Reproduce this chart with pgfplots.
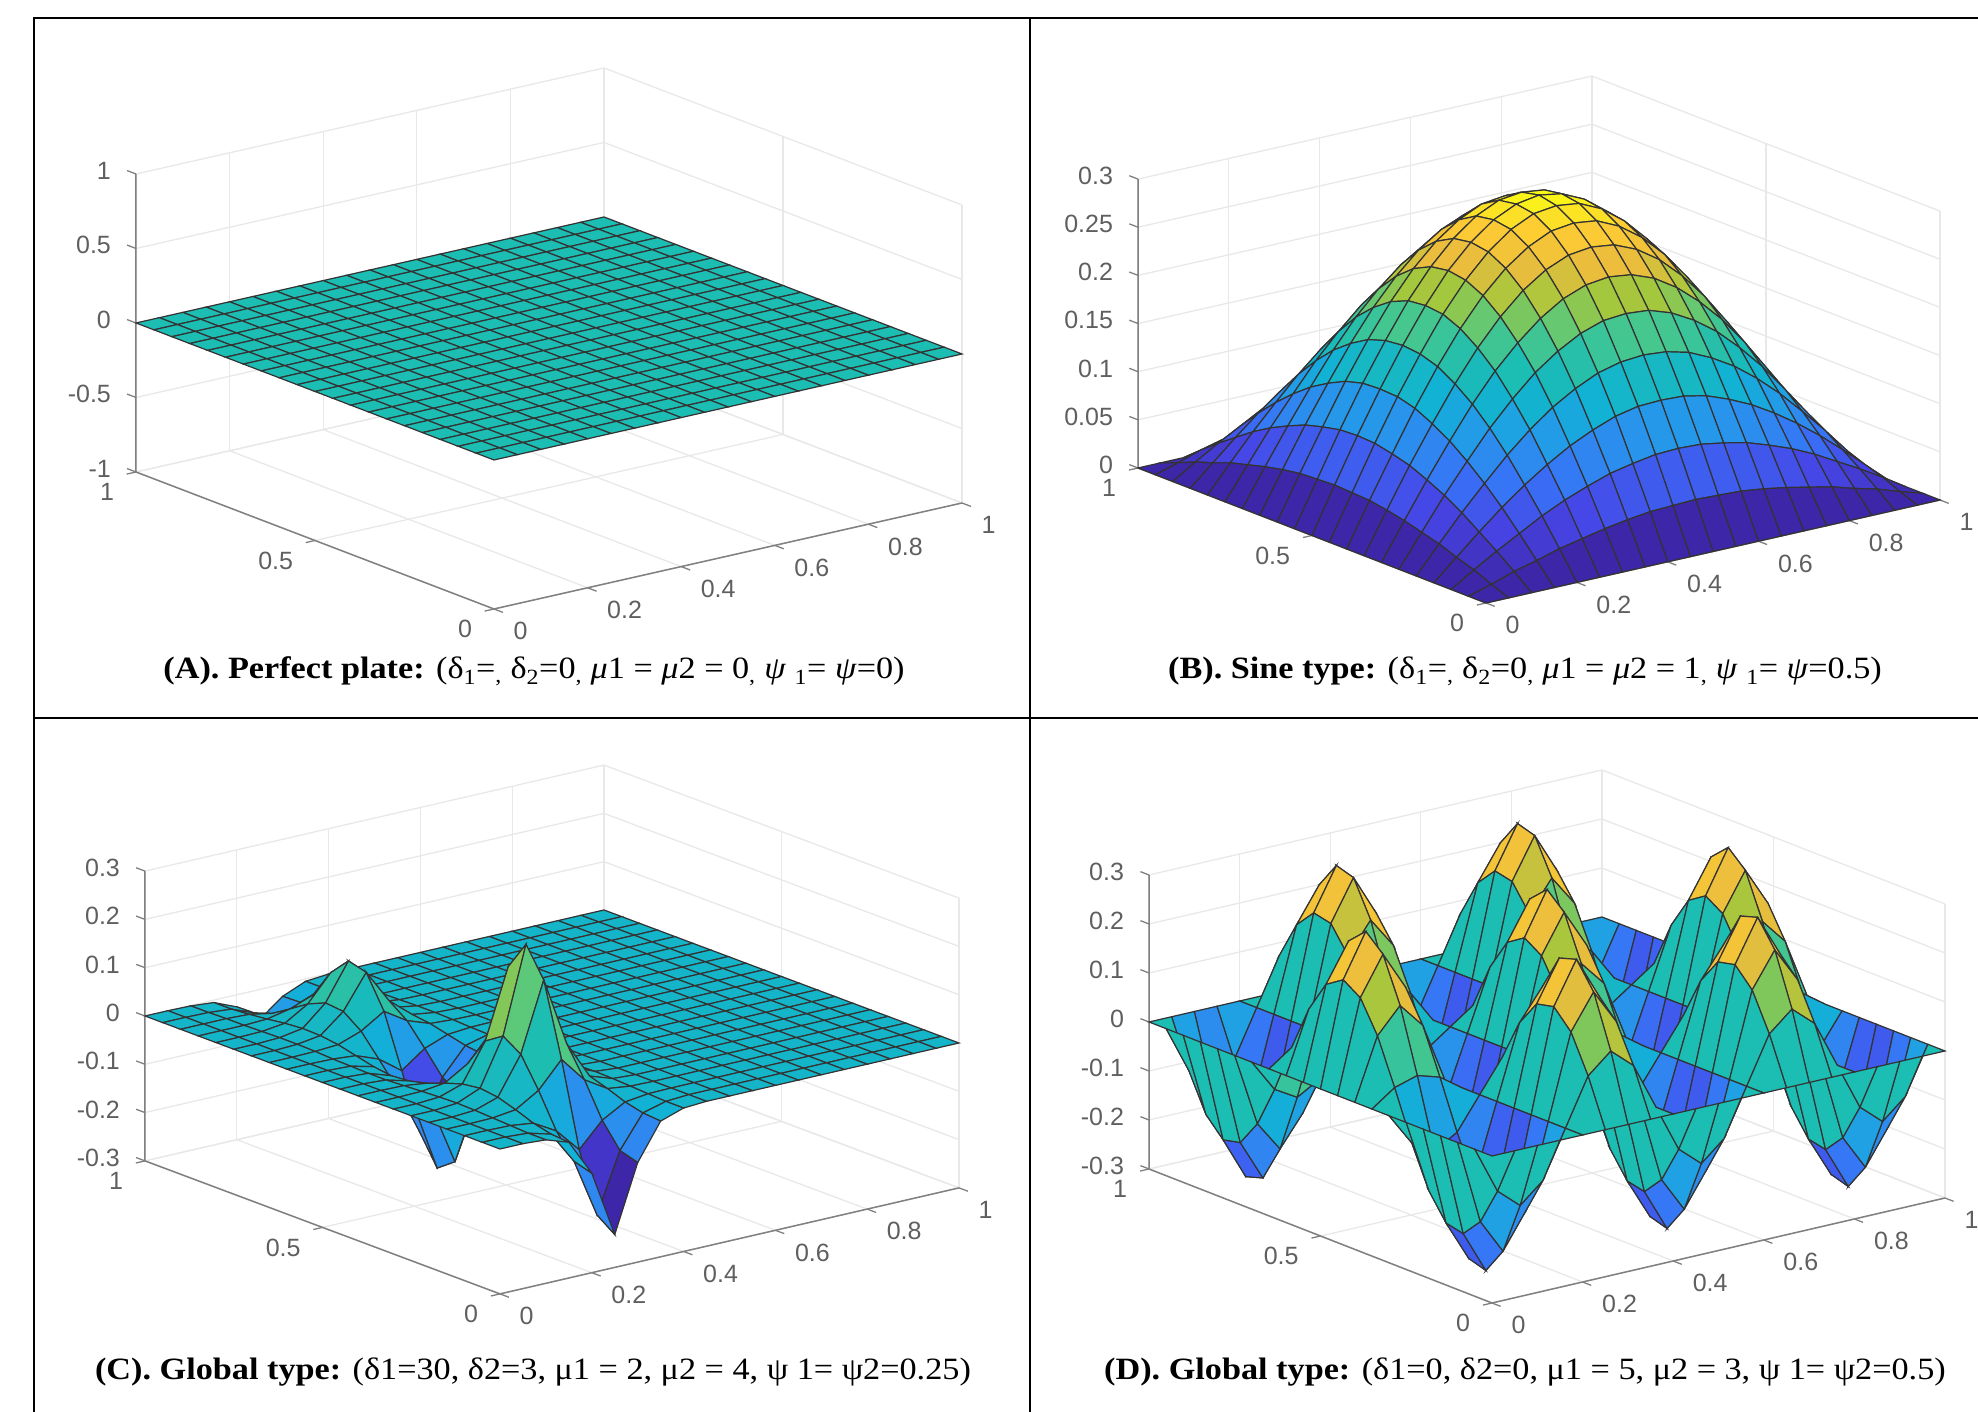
\documentclass[border=0pt]{standalone}
\usepackage{fontspec}
\setmainfont{Liberation Serif}
\newfontfamily\tickfont{Liberation Sans}
\usepackage{pgfplots}
\usepackage{pgfplotstable}
\pgfplotsset{compat=1.18}
\definecolor{tickgray}{HTML}{5F5F5F}
\definecolor{axgray}{HTML}{808080}
\definecolor{gridgray}{HTML}{E8E8E8}
\pgfplotsset{
 colormap={parula}{rgb=(.2422,.1504,.6603) rgb=(.276,.266,.895) rgb=(.22,.45,.97) rgb=(.154,.5902,.9218) rgb=(.0689,.6948,.8394) rgb=(.11,.74,.70) rgb=(.30,.785,.53) rgb=(.64,.78,.24) rgb=(.92,.74,.24) rgb=(.997,.80,.20) rgb=(.9769,.9839,.0805)},
 plate/.style={anchor=origin,clip=false,xmin=0,xmax=1,ymin=0,ymax=1,
  xtick={0,0.2,0.4,0.6,0.8,1},xticklabels={0,0.2,0.4,0.6,0.8,1},
  ytick={0,0.5,1},yticklabels={0,0.5,1},
  grid=major,grid style={gridgray,line width=1.3pt},
  axis line style={draw=none},
  tick style={draw=none},tick align=outside,major tick length=9pt,
  tick label style={font=\tickfont\fontsize{25}{27}\selectfont,text=tickgray,inner sep=0pt},
  xticklabel style={anchor=west,xshift=11pt,yshift=-19pt},
  yticklabel style={anchor=east,xshift=-13pt,yshift=-18pt},
  zticklabel style={anchor=east,xshift=-16.5pt,yshift=0pt},
 },
 face/.style={surf,shader=flat corner,draw=black!80,line width=1.2pt,mesh/rows=21,mesh/cols=21,mesh/check=false,z buffer=none},
 axln/.style={forget plot,no markers,draw=axgray,line width=1.5pt},
 /pgfplots/table/grd/.style={x index=0,y index=0,z index=0,x expr={1-0.05*mod(\coordindex,21)},y expr={1-0.05*floor((\coordindex+0.5)/21)}},
}
\tikzset{tk/.style={draw=axgray,line width=1.3pt}}
\newcommand\capt[3]{\node[inner sep=0pt,font=\fontsize{31}{34}\selectfont] at (#1pt,#2pt) {\scalebox{1.104}[1]{#3}};}
% each face takes the colour of its lowest-index corner, which lies 22 rows further down the table
\newcommand\addcorner[1]{%
 \pgfplotstableforeachcolumnelement{0}\of#1\as\cell{\expandafter\xdef\csname zv\pgfplotstablerow\endcsname{\cell}}%
 \pgfplotstablecreatecol[create col/assign/.code={%
  \pgfmathtruncatemacro\rr{\pgfplotstablerow+22}%
  \ifnum\rr<441
   \expandafter\let\expandafter\vv\csname zv\rr\endcsname
   \pgfkeyslet{/pgfplots/table/create col/next content}\vv
  \else \pgfkeyssetvalue{/pgfplots/table/create col/next content}{0}\fi}]{m}{#1}}
\newcommand\xyticks[1]{%
 \draw[tk] (axis cs:0,0,#1)--(axis cs:0,-.025,#1) (axis cs:.2,0,#1)--(axis cs:.2,-.025,#1)
 (axis cs:.4,0,#1)--(axis cs:.4,-.025,#1) (axis cs:.6,0,#1)--(axis cs:.6,-.025,#1)
 (axis cs:.8,0,#1)--(axis cs:.8,-.025,#1) (axis cs:1,0,#1)--(axis cs:1,-.025,#1)
 (axis cs:0,0,#1)--(axis cs:-.02,0,#1) (axis cs:0,.5,#1)--(axis cs:-.02,.5,#1) (axis cs:0,1,#1)--(axis cs:-.02,1,#1);}
\newcommand\zt[1]{\draw[tk] (axis cs:0,1,#1)--(axis cs:0,1.025,#1);}
\pgfplotstableread[header=false]{
0
0
0
0
0
0
0
0
0
0
0
0
0
0
0
0
0
0
0
0
0
0
.007
.015
.021
.028
.033
.038
.042
.045
.046
.047
.046
.045
.042
.038
.033
.028
.021
.015
.007
0
0
.015
.029
.042
.055
.066
.075
.083
.088
.092
.093
.092
.088
.083
.075
.066
.055
.042
.029
.015
0
0
.021
.042
.062
.080
.096
.110
.121
.130
.135
.136
.135
.130
.121
.110
.096
.080
.062
.042
.021
0
0
.028
.055
.080
.104
.125
.143
.157
.168
.174
.176
.174
.168
.157
.143
.125
.104
.080
.055
.028
0
0
.033
.066
.096
.125
.150
.172
.189
.202
.210
.212
.210
.202
.189
.172
.150
.125
.096
.066
.033
0
0
.038
.075
.110
.143
.172
.196
.216
.231
.240
.243
.240
.231
.216
.196
.172
.143
.110
.075
.038
0
0
.042
.083
.121
.157
.189
.216
.238
.254
.264
.267
.264
.254
.238
.216
.189
.157
.121
.083
.042
0
0
.045
.088
.130
.168
.202
.231
.254
.271
.282
.285
.282
.271
.254
.231
.202
.168
.130
.088
.045
0
0
.046
.092
.135
.174
.210
.240
.264
.282
.293
.296
.293
.282
.264
.240
.210
.174
.135
.092
.046
0
0
.047
.093
.136
.176
.212
.243
.267
.285
.296
.300
.296
.285
.267
.243
.212
.176
.136
.093
.047
0
0
.046
.092
.135
.174
.210
.240
.264
.282
.293
.296
.293
.282
.264
.240
.210
.174
.135
.092
.046
0
0
.045
.088
.130
.168
.202
.231
.254
.271
.282
.285
.282
.271
.254
.231
.202
.168
.130
.088
.045
0
0
.042
.083
.121
.157
.189
.216
.238
.254
.264
.267
.264
.254
.238
.216
.189
.157
.121
.083
.042
0
0
.038
.075
.110
.143
.172
.196
.216
.231
.240
.243
.240
.231
.216
.196
.172
.143
.110
.075
.038
0
0
.033
.066
.096
.125
.150
.172
.189
.202
.210
.212
.210
.202
.189
.172
.150
.125
.096
.066
.033
0
0
.028
.055
.080
.104
.125
.143
.157
.168
.174
.176
.174
.168
.157
.143
.125
.104
.080
.055
.028
0
0
.021
.042
.062
.080
.096
.110
.121
.130
.135
.136
.135
.130
.121
.110
.096
.080
.062
.042
.021
0
0
.015
.029
.042
.055
.066
.075
.083
.088
.092
.093
.092
.088
.083
.075
.066
.055
.042
.029
.015
0
0
.007
.015
.021
.028
.033
.038
.042
.045
.046
.047
.046
.045
.042
.038
.033
.028
.021
.015
.007
0
0
0
0
0
0
0
0
0
0
0
0
0
0
0
0
0
0
0
0
0
0
}\zB
\pgfplotstableread[header=false]{
0
0
0
0
0
0
0
0
0
0
0
0
-.001
-.005
-.025
-.062
-.025
-.005
-.001
0
0
0
0
0
0
0
0
0
0
0
0
0
0
-.001
-.005
-.024
-.059
-.024
-.005
-.001
0
0
0
0
0
0
0
0
0
0
0
0
0
0
0
-.002
-.011
-.026
-.011
-.002
0
0
0
0
0
0
0
0
0
0
0
0
0
0
0
0
.002
.012
.030
.012
.002
0
0
0
0
0
0
0
0
0
0
0
0
0
0
0
.001
.007
.036
.090
.036
.007
.001
0
0
0
0
0
0
0
0
0
0
0
0
0
0
.002
.010
.052
.128
.052
.010
.002
0
0
0
0
0
0
0
0
0
0
0
0
0
0
.002
.009
.048
.118
.048
.009
.002
0
0
0
0
0
0
0
0
0
0
0
0
0
0
.001
.004
.021
.051
.021
.004
.001
0
0
0
0
0
0
0
0
0
0
0
0
0
0
-.001
-.005
-.023
-.058
-.023
-.005
-.001
0
0
0
0
0
0
0
0
0
0
0
0
0
0
-.002
-.014
-.069
-.170
-.069
-.014
-.002
0
0
0
0
0
0
0
0
0
0
0
0
0
0
-.003
-.019
-.094
-.232
-.094
-.019
-.003
0
0
0
0
0
0
0
0
0
0
0
0
0
0
-.003
-.016
-.083
-.205
-.083
-.016
-.003
0
0
0
0
0
0
0
0
0
0
0
0
0
0
-.001
-.007
-.034
-.084
-.034
-.007
-.001
0
0
0
0
0
0
0
0
0
0
0
0
0
0
.001
.007
.036
.089
.036
.007
.001
0
0
0
0
0
0
0
0
0
0
0
0
0
0
.003
.019
.097
.240
.097
.019
.003
0
0
0
0
0
0
0
0
0
0
0
0
0
0
.004
.024
.121
.300
.121
.024
.004
0
0
0
0
0
0
0
0
0
0
0
0
0
0
.003
.019
.097
.240
.097
.019
.003
0
0
0
0
0
0
0
0
0
0
0
0
0
0
.001
.007
.036
.089
.036
.007
.001
0
0
0
0
0
0
0
0
0
0
0
0
0
0
-.001
-.007
-.034
-.084
-.034
-.007
-.001
0
0
0
0
0
0
0
0
0
0
0
0
0
0
-.003
-.016
-.083
-.205
-.083
-.016
-.003
0
0
0
0
0
0
0
0
0
0
0
0
0
0
-.003
-.019
-.094
-.232
-.094
-.019
-.003
0
0
}\zC
\pgfplotstableread[header=false]{
0
0
0
0
0
0
0
0
0
0
0
0
0
0
0
0
0
0
0
0
0
0
-.096
-.136
-.096
0
.096
.136
.096
0
-.096
-.136
-.096
0
.096
.136
.096
0
-.096
-.136
-.096
0
0
-.172
-.243
-.172
0
.172
.243
.172
0
-.172
-.243
-.172
0
.172
.243
.172
0
-.172
-.243
-.172
0
0
-.210
-.296
-.210
0
.210
.296
.210
0
-.210
-.296
-.210
0
.210
.296
.210
0
-.210
-.296
-.210
0
0
-.202
-.285
-.202
0
.202
.285
.202
0
-.202
-.285
-.202
0
.202
.285
.202
0
-.202
-.285
-.202
0
0
-.150
-.212
-.150
0
.150
.212
.150
0
-.150
-.212
-.150
0
.150
.212
.150
0
-.150
-.212
-.150
0
0
-.066
-.093
-.066
0
.066
.093
.066
0
-.066
-.093
-.066
0
.066
.093
.066
0
-.066
-.093
-.066
0
0
.033
.047
.033
0
-.033
-.047
-.033
0
.033
.047
.033
0
-.033
-.047
-.033
0
.033
.047
.033
0
0
.125
.176
.125
0
-.125
-.176
-.125
0
.125
.176
.125
0
-.125
-.176
-.125
0
.125
.176
.125
0
0
.189
.267
.189
0
-.189
-.267
-.189
0
.189
.267
.189
0
-.189
-.267
-.189
0
.189
.267
.189
0
0
.212
.300
.212
0
-.212
-.300
-.212
0
.212
.300
.212
0
-.212
-.300
-.212
0
.212
.300
.212
0
0
.189
.267
.189
0
-.189
-.267
-.189
0
.189
.267
.189
0
-.189
-.267
-.189
0
.189
.267
.189
0
0
.125
.176
.125
0
-.125
-.176
-.125
0
.125
.176
.125
0
-.125
-.176
-.125
0
.125
.176
.125
0
0
.033
.047
.033
0
-.033
-.047
-.033
0
.033
.047
.033
0
-.033
-.047
-.033
0
.033
.047
.033
0
0
-.066
-.093
-.066
0
.066
.093
.066
0
-.066
-.093
-.066
0
.066
.093
.066
0
-.066
-.093
-.066
0
0
-.150
-.212
-.150
0
.150
.212
.150
0
-.150
-.212
-.150
0
.150
.212
.150
0
-.150
-.212
-.150
0
0
-.202
-.285
-.202
0
.202
.285
.202
0
-.202
-.285
-.202
0
.202
.285
.202
0
-.202
-.285
-.202
0
0
-.210
-.296
-.210
0
.210
.296
.210
0
-.210
-.296
-.210
0
.210
.296
.210
0
-.210
-.296
-.210
0
0
-.172
-.243
-.172
0
.172
.243
.172
0
-.172
-.243
-.172
0
.172
.243
.172
0
-.172
-.243
-.172
0
0
-.096
-.136
-.096
0
.096
.136
.096
0
-.096
-.136
-.096
0
.096
.136
.096
0
-.096
-.136
-.096
0
0
0
0
0
0
0
0
0
0
0
0
0
0
0
0
0
0
0
0
0
0
}\zD
\pgfplotstablecreatecol[create col/set={0}]{flat}{\zB}
\addcorner{\zB}
\addcorner{\zC}
\addcorner{\zD}
\begin{document}
\begin{tikzpicture}[x=1pt,y=1pt]
\useasboundingbox (0,0) rectangle (1978,1412);
\begin{axis}[plate,at={(494pt,952pt)},x={(468pt,106pt)},y={(-358pt,137pt)},z={(0pt,149pt)},
 zmin=-1,zmax=1,ztick={-1,-0.5,0,0.5,1},zticklabels={-1,-0.5,0,0.5,1},point meta min=-1,point meta max=1]
\addplot3[axln] coordinates {(0,1,1)(0,1,-1)(0,0,-1)(1,0,-1)};
\xyticks{-1}\zt{-1}\zt{-.5}\zt{0}\zt{.5}\zt{1}
\addplot3[face] table[grd,z=flat] {\zB};
\end{axis}
\begin{axis}[plate,at={(1486pt,809pt)},x={(454pt,103pt)},y={(-348pt,135pt)},z={(0pt,963pt)},
 zmin=0,zmax=0.3,ztick={0,0.05,0.1,0.15,0.2,0.25,0.3},zticklabels={0,0.05,0.1,0.15,0.2,0.25,0.3},point meta min=0,point meta max=0.3]
\addplot3[axln] coordinates {(0,1,0.3)(0,1,0)(0,0,0)(1,0,0)};
\xyticks{0}\zt{0}\zt{.05}\zt{.1}\zt{.15}\zt{.2}\zt{.25}\zt{.3}
\addplot3[face,point meta=explicit] table[grd,meta=m] {\zB};
\end{axis}
\begin{axis}[plate,at={(500pt,263pt)},x={(459pt,106pt)},y={(-355pt,133pt)},z={(0pt,483pt)},
 zmin=-0.3,zmax=0.3,ztick={-0.3,-0.2,-0.1,0,0.1,0.2,0.3},zticklabels={-0.3,-0.2,-0.1,0,0.1,0.2,0.3},point meta min=-0.232,point meta max=0.3]
\addplot3[axln] coordinates {(0,1,0.3)(0,1,-0.3)(0,0,-0.3)(1,0,-0.3)};
\xyticks{-.3}\zt{-.3}\zt{-.2}\zt{-.1}\zt{0}\zt{.1}\zt{.2}\zt{.3}
\addplot3[face,point meta=explicit] table[grd,meta=m] {\zC};
\end{axis}
\begin{axis}[plate,at={(1492pt,256pt)},x={(453pt,105pt)},y={(-343pt,134pt)},z={(0pt,490pt)},
 zmin=-0.3,zmax=0.3,ztick={-0.3,-0.2,-0.1,0,0.1,0.2,0.3},zticklabels={-0.3,-0.2,-0.1,0,0.1,0.2,0.3},point meta min=-0.3,point meta max=0.3]
\addplot3[axln] coordinates {(0,1,0.3)(0,1,-0.3)(0,0,-0.3)(1,0,-0.3)};
\xyticks{-.3}\zt{-.3}\zt{-.2}\zt{-.1}\zt{0}\zt{.1}\zt{.2}\zt{.3}
\addplot3[face,point meta=explicit] table[grd,meta=m] {\zD};
\end{axis}
\draw[line width=2pt,black] (34,0)--(34,1394)--(1978,1394) (1030,1394)--(1030,0) (34,694)--(1978,694);
\capt{534}{741}{\textbf{(A). Perfect plate:} (δ\textsubscript{1}=\textsubscript{,} δ\textsubscript{2}=0\textsubscript{,} \textit{μ}1 = \textit{μ}2 = 0\textsubscript{,} \textit{ψ} \textsubscript{1}= \textit{ψ}=0)}
\capt{1525}{741}{\textbf{(B). Sine type:} (δ\textsubscript{1}=\textsubscript{,} δ\textsubscript{2}=0\textsubscript{,} \textit{μ}1 = \textit{μ}2 = 1\textsubscript{,} \textit{ψ} \textsubscript{1}= \textit{ψ}=0.5)}
\capt{533}{40}{\textbf{(C). Global type:} (δ1=30, δ2=3, μ1 = 2, μ2 = 4, ψ 1= ψ2=0.25)}
\capt{1525}{40}{\textbf{(D). Global type:} (δ1=0, δ2=0, μ1 = 5, μ2 = 3, ψ 1= ψ2=0.5)}
\end{tikzpicture}
\end{document}
